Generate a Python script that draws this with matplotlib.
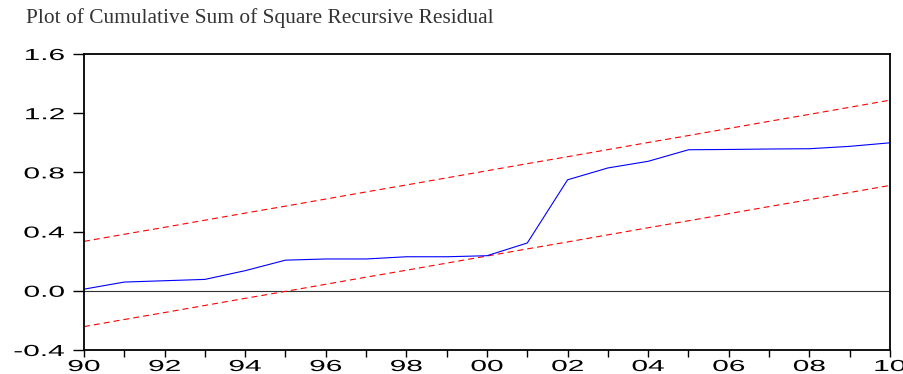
import numpy as np
import matplotlib
matplotlib.use("Agg")
import matplotlib.pyplot as plt
from matplotlib import patheffects
from matplotlib.transforms import Affine2D

years = list(range(1990, 2011))
cusum_sq = [0.011, 0.059, 0.068, 0.077, 0.136, 0.207, 0.215, 0.215, 0.230, 0.230, 0.237,
            0.323, 0.750, 0.830, 0.875, 0.953, 0.955, 0.958, 0.960, 0.976, 1.000]
upper_5 = [0.334, 0.382, 0.429, 0.477, 0.525, 0.572, 0.620, 0.668, 0.715, 0.763, 0.811,
           0.859, 0.906, 0.954, 1.002, 1.049, 1.097, 1.145, 1.192, 1.240, 1.288]
lower_5 = [-0.242, -0.194, -0.147, -0.099, -0.051, -0.004, 0.044, 0.092, 0.139, 0.187, 0.235,
           0.283, 0.330, 0.378, 0.426, 0.473, 0.521, 0.569, 0.616, 0.664, 0.712]
y_ticks = [-0.4, 0.0, 0.4, 0.8, 1.2, 1.6]
y_tick_labels = ["-0.4", "0.0", "0.4", "0.8", "1.2", "1.6"]
x_tick_labels = [f"{y % 100:02d}" if y % 2 == 0 else "" for y in years]
title = "Plot of Cumulative Sum of Square Recursive Residual"


class Stretch(patheffects.AbstractPathEffect):
    # the reference's tick labels are drawn wide, so stretch the glyphs sideways
    def __init__(self, sx, anchor="center"):
        super().__init__()
        self.sx = sx
        self.anchor = anchor

    def draw_path(self, renderer, gc, tpath, affine, rgbFace=None):
        ext = tpath.get_extents()
        ax0 = {"left": ext.x0, "center": (ext.x0 + ext.x1) / 2, "right": ext.x1}[self.anchor]
        t = Affine2D().translate(-ax0, 0).scale(self.sx, 1).translate(ax0, 0)
        renderer.draw_path(gc, tpath, t + affine, rgbFace)


plt.rcParams["font.family"] = "Liberation Sans"
plt.rcParams["lines.scale_dashes"] = False

fig = plt.figure(figsize=(9.04, 3.74), dpi=100)
ax = fig.add_axes([0.0929, 0.0642, 0.8916, 0.7914])

ax.axhline(0, color="#333333", linewidth=0.8, zorder=1)
ax.plot(years, upper_5, color="red", linewidth=0.8, dashes=(4.3, 2.9))
ax.plot(years, lower_5, color="red", linewidth=0.8, dashes=(4.3, 2.9))
ax.plot(years, cusum_sq, color="blue", linewidth=0.8)

ax.set_xlim(1990, 2010)
ax.set_ylim(-0.4, 1.6)
ax.set_xticks(years, x_tick_labels)
ax.set_yticks(y_ticks, y_tick_labels)
ax.tick_params(axis="x", length=5, width=1, pad=1.5, labelsize=11.5)
ax.tick_params(axis="y", length=8, width=1, pad=6, labelsize=11.5)
for spine in ax.spines.values():
    spine.set_linewidth(1.3)

for lbl in ax.get_xticklabels():
    lbl.set_path_effects([Stretch(1.87, "center")])
for lbl in ax.get_yticklabels():
    lbl.set_path_effects([Stretch(1.87, "right")])

fig.text(26 / 904, 1 - 8 / 374, title, family="Liberation Serif", fontsize=15.4,
         color="#333333", ha="left", va="top")

fig.savefig("out.png", dpi=100)
